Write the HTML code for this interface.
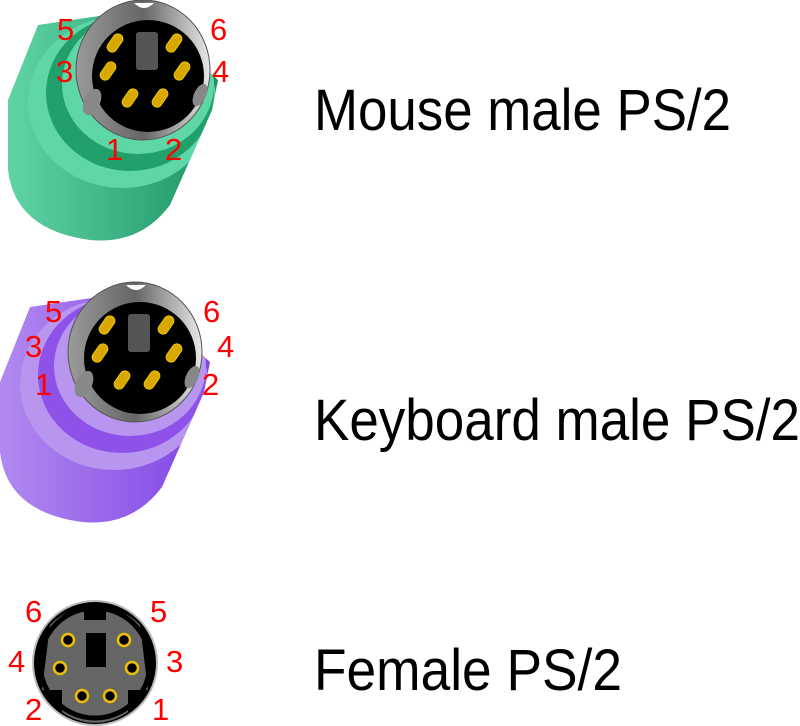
<!DOCTYPE html>
<html><head><style>
body{margin:0;background:#fff;width:800px;height:726px;overflow:hidden}
svg{position:absolute;left:0;top:0}
.t{font-family:"Liberation Sans",sans-serif;font-size:58px;fill:#000}
.n{font-family:"Liberation Sans",sans-serif;font-size:31px;fill:#f00}
</style></head><body>
<svg width="800" height="726" viewBox="0 0 800 726">
<defs>
<linearGradient id="gg" x1="0" x2="1"><stop offset="0" stop-color="#62d6a6"/><stop offset="1" stop-color="#1a9060"/></linearGradient>
<linearGradient id="pg" x1="0" x2="1"><stop offset="0" stop-color="#b48cf0"/><stop offset="1" stop-color="#7c40e4"/></linearGradient>
<linearGradient id="rg" x1="0" x2="1"><stop offset="0" stop-color="#9a9a9a"/><stop offset="0.5" stop-color="#666"/><stop offset="1" stop-color="#e8e8e8"/></linearGradient>
<clipPath id="bc"><path d="M38 25 L140 10 L218 80 L212 110 L170 205 Q140 245 90 240 Q15 230 8 170 L8 100 Z"/></clipPath>
<g id="head">
 <ellipse cx="143" cy="70" rx="67" ry="70" fill="url(#rg)" stroke="#555" stroke-width="1"/>
 <circle cx="148" cy="76" r="56" fill="#000"/>
 <path d="M134 3 q10 10 20 0 z" fill="#fff"/>
 <rect x="136" y="32" width="22" height="38" rx="3" fill="#555"/>
 <g fill="#d6a800" stroke="#f0c800" stroke-width="1">
  <rect x="-5" y="-10" width="10" height="20" rx="5" transform="translate(115,43) rotate(35)"/>
  <rect x="-5" y="-10" width="10" height="20" rx="5" transform="translate(174,43) rotate(35)"/>
  <rect x="-5" y="-10" width="10" height="20" rx="5" transform="translate(108,71) rotate(35)"/>
  <rect x="-5" y="-10" width="10" height="20" rx="5" transform="translate(182,71) rotate(35)"/>
  <rect x="-5" y="-10" width="10" height="20" rx="5" transform="translate(130,98) rotate(35)"/>
  <rect x="-5" y="-10" width="10" height="20" rx="5" transform="translate(160,98) rotate(35)"/>
 </g>
 <ellipse cx="92" cy="102" rx="8" ry="14" fill="#888" transform="rotate(25 92 102)"/>
 <ellipse cx="200" cy="95" rx="6" ry="12" fill="#888" transform="rotate(25 200 95)"/>
</g>
</defs>
<g clip-path="url(#bc)">
<rect x="0" y="0" width="230" height="250" fill="url(#gg)"/>
<ellipse cx="122" cy="102" rx="94" ry="86" fill="#5fd6a6"/>
<ellipse cx="130" cy="93" rx="84" ry="78" fill="#22a06c"/>
<ellipse cx="138" cy="84" rx="76" ry="70" fill="#5fd6a6"/>
</g>
<use href="#head"/>
<text class="n" x="57" y="40">5</text><text class="n" x="210" y="40">6</text>
<text class="n" x="56" y="82">3</text><text class="n" x="212" y="82">4</text>
<text class="n" x="106" y="160">1</text><text class="n" x="165" y="160">2</text>
<text class="t" x="314" y="130" textLength="417" lengthAdjust="spacingAndGlyphs">Mouse male PS/2</text>
<g transform="translate(-8,282)">
<g clip-path="url(#bc)">
<rect x="0" y="0" width="230" height="250" fill="url(#pg)"/>
<ellipse cx="122" cy="102" rx="94" ry="86" fill="#b896f0"/>
<ellipse cx="130" cy="93" rx="84" ry="78" fill="#8e52e8"/>
<ellipse cx="138" cy="84" rx="76" ry="70" fill="#b896f0"/>
</g>
<use href="#head"/>
</g>
<text class="n" x="45" y="322">5</text><text class="n" x="203" y="322">6</text>
<text class="n" x="25" y="357">3</text><text class="n" x="217" y="357">4</text>
<text class="n" x="35" y="395">1</text><text class="n" x="202" y="395">2</text>
<text class="t" x="314" y="440" textLength="486" lengthAdjust="spacingAndGlyphs">Keyboard male PS/2</text>
<circle cx="95" cy="663" r="62" fill="#000" stroke="#bbb" stroke-width="2"/>
<path d="M50 625 A56 56 0 0 1 84 608 L84 620 L106 620 L106 608 A56 56 0 0 1 140 625 L148 690 L128 690 L128 712 A56 56 0 0 1 62 712 L62 690 L42 690 Z" fill="#666"/>
<circle cx="95" cy="663" r="55" fill="none" stroke="#000" stroke-width="5"/>
<rect x="86" y="633" width="20" height="34" fill="#000"/>
<g fill="#000" stroke="#f0c000" stroke-width="2.5">
<circle cx="68" cy="640" r="6"/><circle cx="124" cy="640" r="6"/>
<circle cx="60" cy="668" r="6"/><circle cx="132" cy="668" r="6"/>
<circle cx="82" cy="696" r="6"/><circle cx="110" cy="696" r="6"/>
</g>
<text class="n" x="25" y="622">6</text><text class="n" x="150" y="622">5</text>
<text class="n" x="8" y="672">4</text><text class="n" x="166" y="672">3</text>
<text class="n" x="25" y="720">2</text><text class="n" x="152" y="720">1</text>
<text class="t" x="314" y="690" textLength="308" lengthAdjust="spacingAndGlyphs">Female PS/2</text>
</svg>
</body></html>
